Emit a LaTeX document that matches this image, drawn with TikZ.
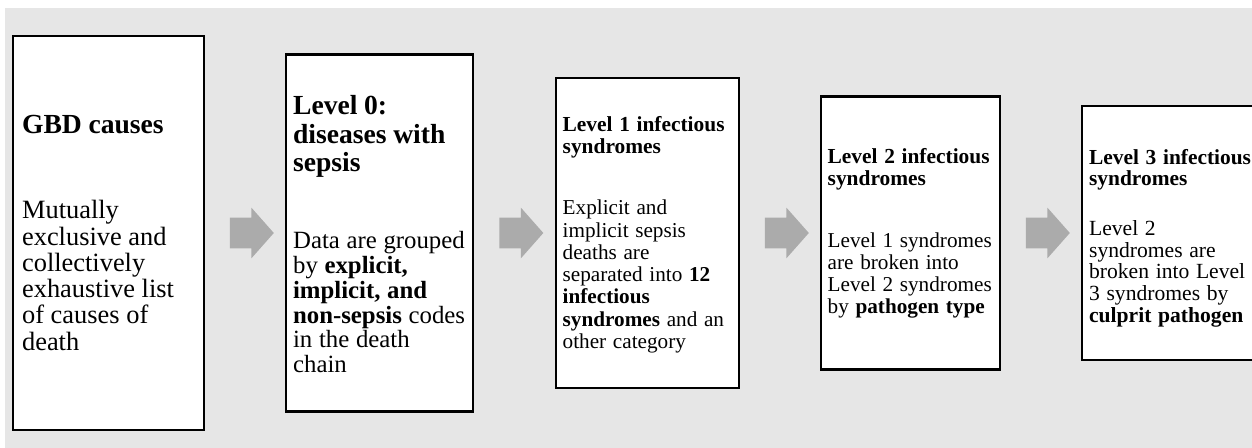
\documentclass[tikz,border=0pt]{standalone}
\usepackage{fontspec}
\setmainfont{Liberation Serif}
\usetikzlibrary{shapes.arrows,calc}
\definecolor{panelgray}{HTML}{E6E6E6}
\definecolor{arrowgray}{HTML}{ABABAB}
\begin{document}
\begin{tikzpicture}[x=0.5pt,y=0.5pt,
        stagebox/.style={draw=black,line width=1.3pt,fill=white,inner sep=0pt},
        stagetext/.style={inner sep=0pt,text width=120pt,align=left,anchor=west},
        flowarrow/.style={single arrow,fill=arrowgray,draw=none,inner xsep=0pt,inner ysep=7.5pt,
            minimum width=0pt,minimum height=22pt,single arrow head extend=5pt,single arrow tip angle=97}]
        \useasboundingbox (0,0) rectangle (1252,448);
        \fill[panelgray] (5,0) rectangle (1252,440);
        % boxes
        \node[stagebox,minimum width=95.5pt,minimum height=197pt] (gbd) at (108.5,215) {};
        \node[stagebox,minimum width=93.5pt,minimum height=178.5pt] (lvl0) at (379.5,215) {};
        \node[stagebox,minimum width=91.5pt,minimum height=155pt] (lvl1) at (647.5,215) {};
        \node[stagebox,minimum width=89.5pt,minimum height=136.5pt] (lvl2) at (910.5,215) {};
        \node[stagebox,minimum width=90pt,minimum height=127pt] (lvl3) at (1172,215) {};
        % texts
        \node[stagetext] (gbdtext) at ([xshift=5pt]gbd.west) {%
            {\fontsize{13.8}{15}\selectfont\bfseries GBD causes\par}
            \vspace{29.4pt}
            {\fontsize{13.2}{13.1}\selectfont Mutually\\exclusive and\\collectively\\exhaustive list\\of causes of\\death\par}};
        \node[stagetext] (lvl0text) at ([xshift=4pt,yshift=-0.5pt]lvl0.west) {%
            {\fontsize{13.8}{14.4}\selectfont\bfseries Level 0:\\diseases with\\sepsis\par}
            \vspace{26pt}
            {\fontsize{12.4}{12.4}\selectfont Data are grouped\\by \textbf{explicit,}\\\textbf{implicit, and}\\\textbf{non-sepsis} codes\\in the death\\chain\par}};
        \node[stagetext] (lvl1text) at ([xshift=3.8pt,yshift=-1pt]lvl1.west) {%
            {\fontsize{10.7}{11}\selectfont\bfseries Level 1 infectious\\syndromes\par}
            \vspace{19.3pt}
            {\fontsize{10.6}{11.15}\selectfont Explicit and\\implicit sepsis\\deaths are\\separated into \textbf{12}\\\textbf{infectious}\\\textbf{syndromes} and an\\other category\par}};
        \node[stagetext] (lvl2text) at ([xshift=3.8pt]lvl2.west) {%
            {\fontsize{10.7}{11}\selectfont\bfseries Level 2 infectious\\syndromes\par}
            \vspace{20pt}
            {\fontsize{10.6}{11}\selectfont Level 1 syndromes\\are broken into\\Level 2 syndromes\\by \textbf{pathogen type}\par}};
        \node[stagetext] (lvl3text) at ([xshift=4pt,yshift=-2.5pt]lvl3.west) {%
            {\fontsize{10.7}{10.5}\selectfont\bfseries Level 3 infectious\\syndromes\par}
            \vspace{14.5pt}
            {\fontsize{10.8}{10.8}\selectfont Level 2\\syndromes are\\broken into Level\\3 syndromes by\\\textbf{culprit pathogen}\par}};
        % arrows
        \node[flowarrow] (arrA) at ($(gbd.east)!0.5!(lvl0.west)$) {};
        \node[flowarrow] (arrB) at ($(lvl0.east)!0.5!(lvl1.west)$) {};
        \node[flowarrow] (arrC) at ($(lvl1.east)!0.5!(lvl2.west)$) {};
        \node[flowarrow] (arrD) at ($(lvl2.east)!0.5!(lvl3.west)$) {};
    \end{tikzpicture}
\end{document}
